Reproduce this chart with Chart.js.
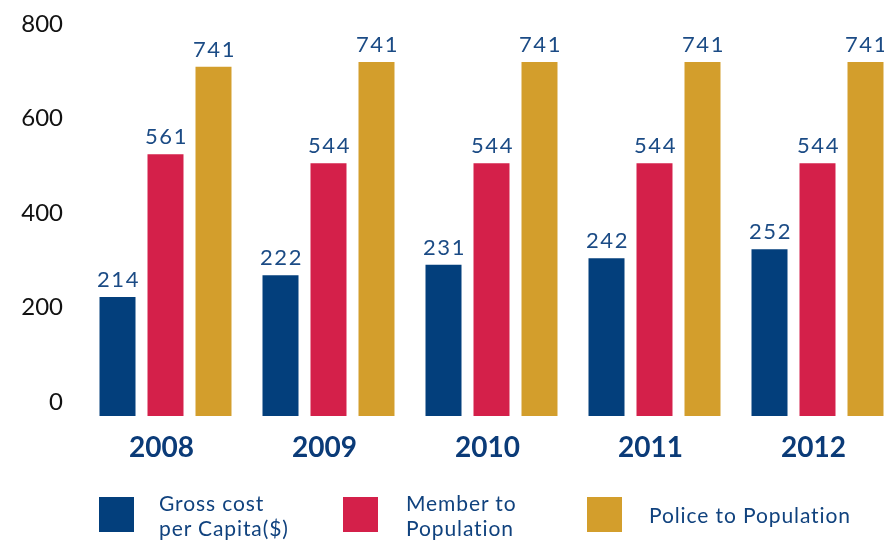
<!DOCTYPE html>
<html>
<head>
<meta charset="utf-8">
<script src="https://cdn.jsdelivr.net/npm/chart.js@4"></script>
<style>
    html, body { margin: 0; padding: 0; background: #fff; overflow: hidden; }
    #wrap { position: relative; width: 884px; height: 545px; overflow: hidden; }
    #wrap canvas { position: absolute; left: 0; top: 0; }
    .key { position: absolute; top: 497px; height: 35px; display: flex; align-items: center; }
    .key .box { width: 35px; height: 35px; }
    .key .txt { font-family: Lato, sans-serif; font-size: 21px; line-height: 25px; letter-spacing: 0.9px; color: #10427e; white-space: pre; position: absolute; }
</style>
</head>
<body>
<div id="wrap">
    <canvas id="chart" width="900" height="545" style="width:900px;height:545px"></canvas>
</div>
<script>
    "use strict";
    // categories and tick values
    var years = ['2008', '2009', '2010', '2011', '2012'];
    var yTicks = [0, 200, 400, 600, 800];

    // bar heights as drawn in the picture
    var grossCost = [252, 298, 320, 334, 353];
    var memberPop = [554, 535, 535, 535, 535];
    var policePop = [739, 749, 749, 749, 749];

    // numbers printed over the bars
    var grossCostText = ['214', '222', '231', '242', '252'];
    var memberPopText = ['561', '544', '544', '544', '544'];
    var policePopText = ['741', '741', '741', '741', '741'];

    var seriesNames = ['Gross cost\nper Capita($)', 'Member to\nPopulation', 'Police to Population'];
    var seriesColors = ['#033f7c', '#d4204a', '#d39e2c'];

    // legend, built as plain html under the chart
    var keyLeft = [99, 343, 587];
    var keyTextLeft = [60, 63, 62];
    var wrap = document.getElementById('wrap');
    for (var i = 0; i < seriesNames.length; i++) {
        var key = document.createElement('div');
        key.className = 'key';
        key.style.left = keyLeft[i] + 'px';
        var box = document.createElement('div');
        box.className = 'box';
        box.style.background = seriesColors[i];
        var txt = document.createElement('div');
        txt.className = 'txt';
        txt.style.left = keyTextLeft[i] + 'px';
        txt.textContent = seriesNames[i];
        key.appendChild(box);
        key.appendChild(txt);
        wrap.appendChild(key);
    }

    // draws the printed numbers above every bar
    var valueLabels = {
        id: 'valueLabels',
        afterDatasetsDraw: function(chart) {
            var ctx = chart.ctx;
            var texts = [grossCostText, memberPopText, policePopText];
            ctx.save();
            ctx.font = '22px Lato, sans-serif';
            ctx.letterSpacing = '1.5px';
            ctx.fillStyle = '#1b4b85';
            ctx.textAlign = 'center';
            ctx.textBaseline = 'alphabetic';
            chart.data.datasets.forEach(function(ds, d) {
                chart.getDatasetMeta(d).data.forEach(function(bar, k) {
                    ctx.fillText(texts[d][k], bar.x + 1, bar.y - 10);
                });
            });
            ctx.restore();
        }
    };

    new Chart(document.getElementById('chart'), {
        type: 'bar',
        data: {
            labels: years,
            datasets: [
                { label: seriesNames[0], data: grossCost, backgroundColor: seriesColors[0] },
                { label: seriesNames[1], data: memberPop, backgroundColor: seriesColors[1] },
                { label: seriesNames[2], data: policePop, backgroundColor: seriesColors[2] }
            ]
        },
        options: {
            responsive: false,
            animation: false,
            layout: { padding: { top: 38, left: 0, right: 1, bottom: 0 } },
            datasets: {
                bar: { categoryPercentage: 0.8834, barPercentage: 0.75 }
            },
            plugins: {
                legend: { display: false },
                tooltip: { enabled: false }
            },
            scales: {
                x: {
                    grid: { display: false, drawTicks: false },
                    border: { display: false },
                    ticks: {
                        padding: 15,
                        labelOffset: -4,
                        color: '#0b3b78',
                        font: { family: 'Lato, sans-serif', size: 28, weight: 'bold' }
                    },
                    afterFit: function(scale) { scale.height = 129; }
                },
                y: {
                    min: 0,
                    max: 800,
                    afterBuildTicks: function(scale) {
                        scale.ticks = yTicks.map(function(v) { return { value: v }; });
                    },
                    grid: { display: false, drawTicks: false },
                    border: { display: false },
                    ticks: {
                        padding: 21,
                        labelOffset: -14,
                        color: '#111',
                        font: { family: 'Lato, sans-serif', size: 24 }
                    },
                    afterFit: function(scale) { scale.width = 84; }
                }
            }
        },
        plugins: [valueLabels]
    });
</script>
</body>
</html>
